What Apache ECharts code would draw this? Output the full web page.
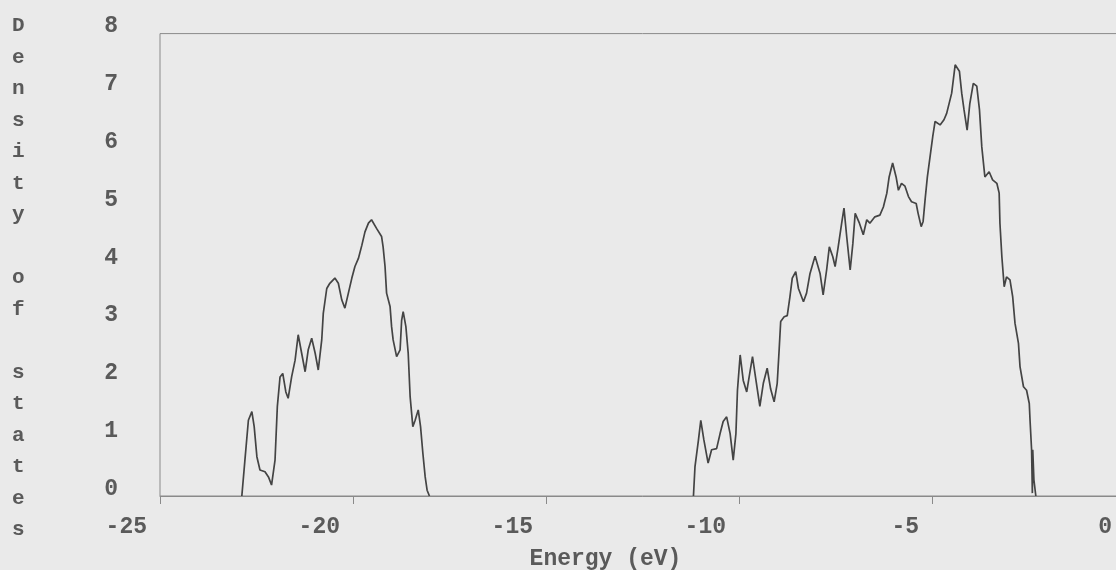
<!DOCTYPE html>
<html>
<head>
<meta charset="utf-8">
<title>Density of states</title>
<script src="https://cdn.jsdelivr.net/npm/echarts@6/dist/echarts.min.js"></script>
<style>
  html, body { margin: 0; padding: 0; background: #eaeaea; overflow: hidden; }
  /* the plot frame runs on past the right edge of the page */
  #chart { width: 1135px; height: 570px; }
</style>
</head>
<body>
<div id="chart"></div>
<script>
// Lower valence band (eV, states)
const energyLow = [-22.88,-22.80,-22.71,-22.62,-22.56,-22.49,-22.41,-22.28,-22.19,-22.11,-22.02,-21.96,-21.89,-21.82,-21.74,-21.68,-21.59,-21.50,-21.42,-21.33,-21.24,-21.16,-21.07,-20.98,-20.90,-20.81,-20.77,-20.68,-20.60,-20.47,-20.38,-20.29,-20.21,-20.12,-20.03,-19.95,-19.86,-19.77,-19.69,-19.60,-19.52,-19.39,-19.26,-19.22,-19.17,-19.13,-19.04,-19.00,-18.96,-18.87,-18.78,-18.74,-18.70,-18.63,-18.57,-18.52,-18.45,-18.39,-18.31,-18.25,-18.19,-18.13,-18.08,-18.02];
const dosLow = [0,0.62,1.31,1.46,1.20,0.68,0.45,0.42,0.33,0.19,0.62,1.55,2.06,2.12,1.80,1.69,2.06,2.35,2.79,2.47,2.15,2.53,2.73,2.47,2.18,2.70,3.16,3.59,3.68,3.77,3.68,3.39,3.25,3.51,3.77,3.97,4.11,4.34,4.57,4.72,4.78,4.63,4.49,4.31,3.97,3.51,3.28,2.93,2.70,2.41,2.53,3.04,3.19,2.93,2.47,1.72,1.20,1.31,1.49,1.20,0.74,0.33,0.10,0];

// Upper valence band (eV, states)
const energyHigh = [-11.18,-11.14,-11.05,-10.99,-10.91,-10.80,-10.71,-10.58,-10.49,-10.41,-10.32,-10.23,-10.15,-10.08,-10.04,-9.97,-9.89,-9.80,-9.72,-9.65,-9.56,-9.46,-9.37,-9.27,-9.18,-9.09,-9.01,-8.96,-8.92,-8.83,-8.75,-8.68,-8.62,-8.53,-8.46,-8.33,-8.25,-8.16,-8.03,-7.90,-7.82,-7.73,-7.66,-7.57,-7.51,-7.43,-7.34,-7.28,-7.21,-7.12,-7.05,-6.99,-6.88,-6.78,-6.69,-6.61,-6.48,-6.35,-6.26,-6.17,-6.11,-6.02,-5.93,-5.87,-5.79,-5.70,-5.61,-5.53,-5.41,-5.36,-5.28,-5.23,-5.18,-5.12,-5.05,-4.98,-4.92,-4.79,-4.69,-4.62,-4.49,-4.40,-4.29,-4.23,-4.17,-4.09,-4.02,-3.93,-3.84,-3.77,-3.71,-3.63,-3.52,-3.43,-3.32,-3.26,-3.24,-3.19,-3.13,-3.07,-2.98,-2.91,-2.85,-2.76,-2.72,-2.63,-2.55,-2.48,-2.46,-2.42,-2.40,-2.39,-2.36,-2.31];
const dosHigh = [0,0.51,0.97,1.31,0.97,0.57,0.80,0.82,1.08,1.29,1.37,1.08,0.62,1.08,1.83,2.44,2.00,1.80,2.13,2.41,2.00,1.55,1.95,2.21,1.85,1.63,1.95,2.53,3.02,3.10,3.12,3.45,3.77,3.88,3.59,3.36,3.51,3.85,4.15,3.85,3.48,3.91,4.31,4.14,3.97,4.31,4.72,4.98,4.49,3.91,4.37,4.89,4.72,4.52,4.78,4.72,4.83,4.86,5.00,5.24,5.52,5.76,5.52,5.29,5.41,5.36,5.18,5.09,5.06,4.89,4.66,4.75,5.12,5.52,5.87,6.22,6.48,6.42,6.51,6.62,6.97,7.46,7.35,6.97,6.68,6.33,6.79,7.14,7.09,6.68,6.04,5.52,5.61,5.47,5.41,5.24,4.72,4.14,3.62,3.79,3.74,3.45,2.99,2.64,2.24,1.89,1.83,1.60,1.31,0.80,0.05,0.80,0.28,0];

const xTicks = { min: -25, max: 0, step: 5 };
const yTicks = { min: 0, max: 8, step: 1 };
const xTitle = 'Energy (eV)';
const yTitle = 'Density of states';

// one series, broken between the two bands
const points = energyLow.map((e, i) => [e, dosLow[i]])
  .concat([[-14.6, null]])
  .concat(energyHigh.map((e, i) => [e, dosHigh[i]]));

const axisGrey = '#8a8a8a';
const textGrey = '#5a5a5a';
const monoFont = '"Liberation Mono", "DejaVu Sans Mono", monospace';

const chart = echarts.init(document.getElementById('chart'), null, { renderer: 'canvas' });
chart.setOption({
  backgroundColor: '#eaeaea',
  animation: false,
  grid: {
    left: 160, top: 33.6, bottom: 74, right: 10,
    outerBoundsMode: 'none',
    containLabel: false,
    show: true, borderColor: axisGrey, borderWidth: 1, backgroundColor: 'transparent'
  },
  graphic: [{
    type: 'text',
    left: 12, top: 10,
    style: {
      // the title is written one letter per line down the left margin
      text: yTitle.split('').map(c => c === ' ' ? '' : c).join('\n'),
      font: 'bold 21px ' + monoFont,
      fill: textGrey,
      lineHeight: 31.5
    }
  }],
  xAxis: {
    type: 'value',
    min: xTicks.min, max: xTicks.max, interval: xTicks.step,
    name: xTitle,
    nameLocation: 'middle',
    nameGap: 52,
    nameTextStyle: {
      color: textGrey, fontFamily: monoFont, fontWeight: 'bold', fontSize: 23,
      padding: [0, 74, 0, 0]
    },
    axisLine: { show: true, onZero: false, lineStyle: { color: axisGrey, width: 1 } },
    axisTick: { show: true, inside: false, length: 8, lineStyle: { color: axisGrey } },
    splitLine: { show: false },
    axisLabel: {
      color: textGrey, fontFamily: monoFont, fontWeight: 'bold', fontSize: 23,
      align: 'right', verticalAlign: 'top', margin: 20,
      alignMinLabel: 'right', alignMaxLabel: 'right',
      padding: [0, 13, 0, 0],
      showMinLabel: true, showMaxLabel: true,
      formatter: v => String(v)
    }
  },
  yAxis: {
    type: 'value',
    min: yTicks.min, max: yTicks.max, interval: yTicks.step,
    axisLine: { show: true, lineStyle: { color: axisGrey, width: 1 } },
    axisTick: { show: true, inside: false, length: 8, lineStyle: { color: axisGrey } },
    splitLine: { show: false },
    axisLabel: {
      color: textGrey, fontFamily: monoFont, fontWeight: 'bold', fontSize: 23,
      align: 'right', verticalAlign: 'bottom', lineHeight: 14, margin: 42,
      verticalAlignMinLabel: 'bottom', verticalAlignMaxLabel: 'bottom'
    }
  },
  series: [{
    type: 'line',
    data: points,
    showSymbol: false,
    connectNulls: false,
    clip: true,
    lineStyle: { color: '#444444', width: 1.7 }
  }]
});
</script>
</body>
</html>
